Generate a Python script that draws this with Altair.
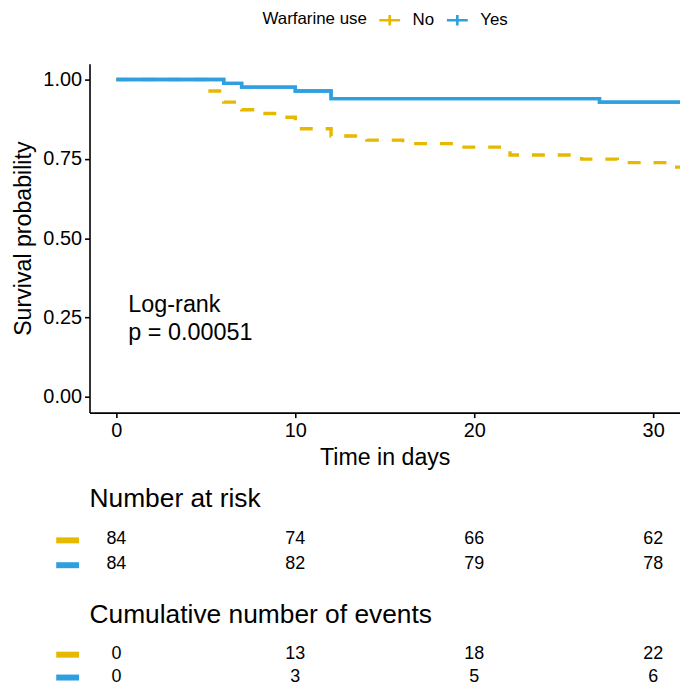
import altair as alt
import pandas as pd

FONT = "Liberation Sans"

groups = ["No", "Yes"]
colors = ["#E7B800", "#2E9FDF"]

# Kaplan-Meier step points
no_time = [0, 5, 6, 7, 8, 9, 10, 12, 14, 16, 19, 22, 26, 28, 31, 33]
no_surv = [1.0, 0.964, 0.929, 0.905, 0.893, 0.881, 0.845, 0.822, 0.809, 0.798,
           0.787, 0.762, 0.749, 0.738, 0.724, 0.724]
yes_time = [0, 6, 7, 10, 12, 27, 33]
yes_surv = [1.0, 0.988, 0.976, 0.964, 0.940, 0.929, 0.929]

# Risk tables
table_times = [0, 10, 20, 30]
risk_no = [84, 74, 66, 62]
risk_yes = [84, 82, 79, 78]
events_no = [0, 13, 18, 22]
events_yes = [0, 3, 5, 6]

y_ticks = [0.0, 0.25, 0.50, 0.75, 1.0]
pval_text = "Log-rank\np = 0.00051"

curve_df = pd.concat([
    pd.DataFrame({"group": "No", "time": no_time, "surv": no_surv}),
    pd.DataFrame({"group": "Yes", "time": yes_time, "surv": yes_surv}),
], ignore_index=True)

W = 594
xscale = alt.Scale(domain=[-1.5, 31.5], nice=False, zero=False)
yscale = alt.Scale(domain=[-0.05, 1.05], nice=False, zero=False)

axis_common = dict(grid=False, domainColor="black", domainWidth=1.6, tickColor="black",
                   tickWidth=1.6, tickSize=5, labelFontSize=20, labelColor="black",
                   labelFont=FONT, titleFont=FONT, titleFontSize=23.3,
                   titleFontWeight="normal", titleColor="black", labelPadding=3)

enc = dict(
    x=alt.X("time:Q", scale=xscale,
            axis=alt.Axis(values=table_times, title="Time in days", titlePadding=6,
                          **axis_common)),
    y=alt.Y("surv:Q", scale=yscale,
            axis=alt.Axis(values=y_ticks, format=".2f", title="Survival probability",
                          titlePadding=7, **axis_common)),
    color=alt.Color("group:N", scale=alt.Scale(domain=groups, range=colors),
                    legend=alt.Legend(title="Warfarine use", orient="none",
                                      legendX=174, legendY=-56, direction="horizontal",
                                      titleOrient="left", titleFont=FONT,
                                      titleFontSize=17, titleFontWeight="normal",
                                      titleColor="black", labelFont=FONT,
                                      labelFontSize=17, labelColor="black",
                                      symbolType="M-1,0H1M0,-0.5V0.5",
                                      symbolSize=440, symbolStrokeWidth=2.6,
                                      labelOffset=11, columnPadding=7,
                                      titlePadding=10, padding=0)),
)

base = alt.Chart(curve_df)
line_yes = base.transform_filter(alt.datum.group == "Yes").mark_line(
    interpolate="step-after", strokeWidth=3.4, clip=True).encode(**enc)
line_no = base.transform_filter(alt.datum.group == "No").mark_line(
    interpolate="step-after", strokeWidth=3.4, clip=True, strokeDash=[13, 13]).encode(**enc)
# "Yes" curve redrawn on top, as the second stratum is drawn last in the reference
line_yes_top = base.transform_filter(alt.datum.group == "Yes").mark_line(
    interpolate="step-after", strokeWidth=3.4, clip=True, color=colors[1]
).encode(x=alt.X("time:Q", scale=xscale), y=alt.Y("surv:Q", scale=yscale))

annot = alt.Chart(pd.DataFrame({"x": [0.67], "y": [0.266], "t": [pval_text]})).mark_text(
    align="left", baseline="alphabetic", lineBreak="\n", lineHeight=27.7,
    fontSize=23.5, font=FONT, color="black"
).encode(x="x:Q", y="y:Q", text="t:N")

main = alt.layer(line_yes, line_no, line_yes_top, annot).properties(width=W, height=351)


def table(title, vals_no, vals_yes, height, pad, offset):
    df = pd.concat([
        pd.DataFrame({"group": "No", "time": table_times, "n": vals_no}),
        pd.DataFrame({"group": "Yes", "time": table_times, "n": vals_yes}),
    ], ignore_index=True)
    return alt.Chart(df).mark_text(
        font=FONT, fontSize=18, color="black", baseline="middle"
    ).encode(
        x=alt.X("time:Q", scale=xscale, axis=None),
        y=alt.Y("group:N", scale=alt.Scale(domain=groups, padding=pad),
                axis=alt.Axis(title=None, labels=False, domain=False, ticks=True,
                              tickSize=23, tickWidth=6, offset=11,
                              tickColor={"condition": {"test": "datum.value === 'No'",
                                                       "value": colors[0]},
                                         "value": colors[1]})),
        text="n:Q",
    ).properties(width=W, height=height,
                 title=alt.TitleParams(title, anchor="start", frame="group", font=FONT,
                                       fontSize=26.5, fontWeight="normal", color="black",
                                       offset=offset))


t1 = table("Number at risk", risk_no, risk_yes, 68, 0.86, 6)
t2 = table("Cumulative number of events", events_no, events_yes, 23, 0, 17)

chart = alt.vconcat(main, t1, t2, spacing=16).properties(
    padding={"left": 4, "top": -2, "right": 0, "bottom": 0}
).configure(background="white").configure_view(strokeWidth=0, stroke=None)

chart.save("out.html", embed_options={"renderer": "svg", "actions": False})
